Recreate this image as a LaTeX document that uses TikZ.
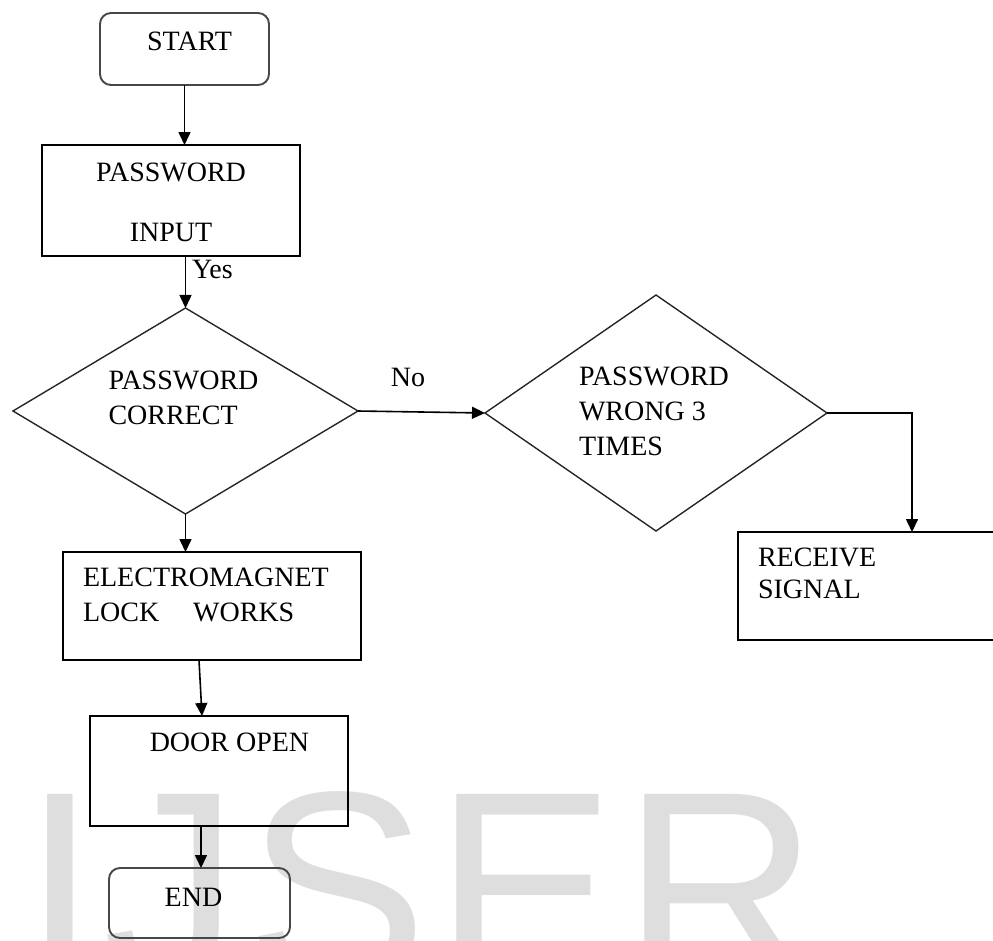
\documentclass[tikz,border=0pt]{standalone}
\usepackage{fontspec}
\setmainfont{Liberation Serif}
\newfontfamily\markfont[LetterSpace=2.4]{Liberation Sans}
\usetikzlibrary{shapes.geometric,arrows.meta,positioning}

% text block of a box: width, height, gap above, lines
\newcommand{\boxlines}[4]{\parbox[c][#2][t]{#1}{\vspace*{#3}#4}}

\begin{document}
\begin{tikzpicture}[x=1pt,y=-1pt,line width=1.6pt,
        >={Triangle[length=13pt,width=12pt]},
        font=\fontsize{28}{35}\selectfont,
        every node/.style={inner sep=0pt,outer sep=0pt},
        term/.style={draw=black!72,line width=1.9pt,rounded corners=11pt},
        proc/.style={draw,line width=1.6pt},
        decision/.style={draw=black!85,line width=1.4pt,diamond,shape aspect=1.5}]
    \clip (0,0) rectangle (993,940);
    \node[text=black!13,anchor=base west,font=\markfont\fontsize{272}{272}\selectfont] (mark) at (22,981) {IJSER};

    \node[term] (start) at (184.5,49) {\boxlines{169pt}{72pt}{19pt}{\centering\hspace*{10pt}START}};
    \node[proc] (input) [below=60pt of start,xshift=-13.5pt] {\boxlines{258pt}{111pt}{18pt}{\centering PASSWORD\\[25pt]INPUT}};
    \node[decision,minimum width=345pt,minimum height=206pt] (dec1) [below=52pt of input,xshift=14.5pt] {\boxlines{154pt}{80pt}{0pt}{PASSWORD\\CORRECT}};
    \node[decision,minimum width=342pt,minimum height=236pt] (dec2) [right=127pt of dec1,yshift=-2pt] {\boxlines{154pt}{92pt}{0pt}{PASSWORD\\WRONG 3\\TIMES}};
    \node[proc] (receive) at (873,586) {\boxlines{270pt}{108pt}{16pt}{\setlength{\leftskip}{20pt}RECEIVE\\[-3pt]SIGNAL}};
    \node[proc] (elec) [below=38pt of dec1,xshift=26.5pt] {\boxlines{298pt}{108pt}{16pt}{\setlength{\leftskip}{20pt}ELECTROMAGNET\\LOCK\hspace{34pt}WORKS}};
    \node[proc] (door) [below=56pt of elec,xshift=7pt] {\boxlines{258pt}{110pt}{17pt}{\centering\hspace*{21pt}DOOR OPEN}};
    \node[term] (stop) [below=42pt of door,xshift=-19.5pt] {\boxlines{181pt}{70pt}{20pt}{\centering\hspace*{-12pt}END}};

    \node[anchor=north west] (yes) at (192,260) {Yes};
    \node[anchor=north] (no) at (408,368) {No};

    \path[->]
        (start) edge (start |- input.north)
        (dec1.north |- input.south) edge (dec1)
        (dec1) edge (dec1 |- elec.north)
        (dec1.east) edge (dec2.west)
        ([xshift=-13pt]elec.south) edge ([xshift=-17pt]door.north)
        ([xshift=-18pt]door.south) edge ([xshift=1.5pt]stop.north);
    \draw[->] (dec2.east) -| ([xshift=39pt]receive.north);
\end{tikzpicture}
\end{document}
